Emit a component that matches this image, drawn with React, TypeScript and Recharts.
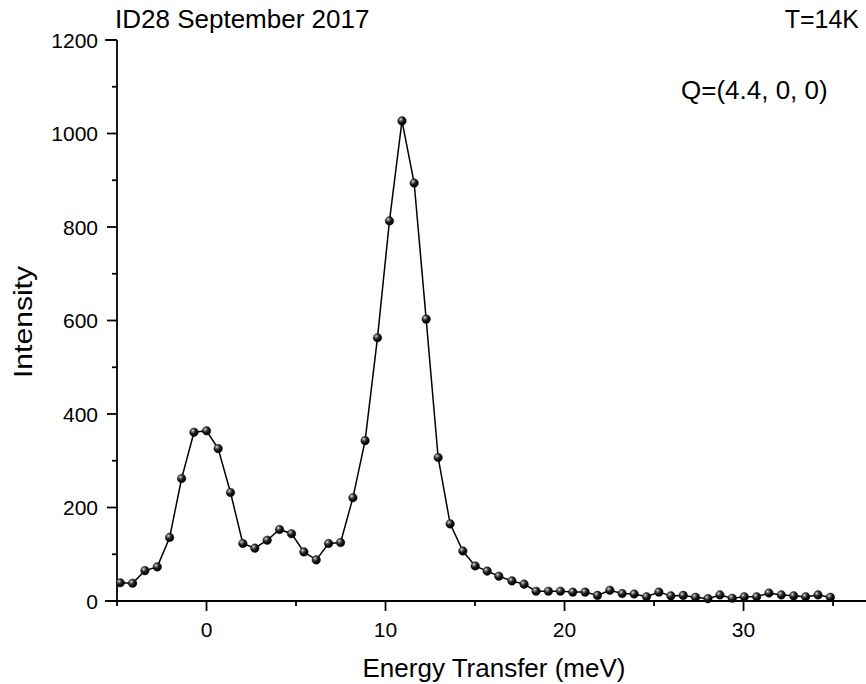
import React from "react";
import { LineChart, Line, XAxis, YAxis, Customized } from "recharts";

const energy = [
  -4.82, -4.13, -3.44, -2.75, -2.06, -1.39, -0.7, 0.0, 0.65, 1.34,
  2.03, 2.7, 3.39, 4.08, 4.75, 5.44, 6.13, 6.82, 7.49, 8.18,
  8.86, 9.55, 10.22, 10.92, 11.6, 12.27, 12.94, 13.61, 14.32, 15.01,
  15.68, 16.33, 17.06, 17.74, 18.41, 19.1, 19.77, 20.46, 21.15, 21.84,
  22.53, 23.22, 23.89, 24.58, 25.27, 25.94, 26.63, 27.32, 28.01, 28.68,
  29.37, 30.04, 30.73, 31.42, 32.11, 32.8, 33.47, 34.16, 34.85,
];

const intensity = [
  39, 38, 65, 73, 136, 262, 361, 364, 326, 232,
  123, 113, 130, 153, 144, 105, 88, 123, 125, 221,
  343, 563, 813, 1027, 894, 603, 307, 165, 107, 75,
  64, 53, 43, 36, 21, 21, 21, 19, 19, 12,
  23, 16, 15, 9, 19, 11, 12, 8, 5, 13,
  6, 9, 9, 17, 13, 11, 9, 13, 8,
];

const xTicks = [-5, 0, 5, 10, 15, 20, 25, 30, 35];
const yTicks = [0, 100, 200, 300, 400, 500, 600, 700, 800, 900, 1000, 1100, 1200];

const titleText = "ID28 September 2017";
const tempText = "T=14K";
const qText = "Q=(4.4, 0, 0)";
const xTitle = "Energy Transfer (meV)";
const yTitle = "Intensity";

const data = energy.map((e, i) => ({ e, v: intensity[i] }));

const FONT = "'Liberation Sans', Arial, Helvetica, sans-serif";
const AX = 1.8;

const XTick = (props: any) => {
  const { x, y, payload } = props;
  const v = payload.value;
  const major = v % 10 === 0;
  return (
    <g>
      <line x1={x} y1={y} x2={x} y2={y + (major ? 10 : 5)} stroke="#000" strokeWidth={AX} />
      {major && (
        <text x={x} y={y + 36} textAnchor="middle" fontSize={21} fontFamily={FONT} fill="#000">
          {v}
        </text>
      )}
    </g>
  );
};

const TopTick = (props: any) => {
  const { x, y } = props;
  return <line x1={x} y1={y - 1.5} x2={x} y2={y + 2} stroke="#000" strokeWidth={1} />;
};

const YTick = (props: any) => {
  const { x, y, payload } = props;
  const v = payload.value;
  const major = v % 200 === 0;
  return (
    <g>
      <line x1={x - (major ? 10 : 5)} y1={y} x2={x} y2={y} stroke="#000" strokeWidth={AX} />
      {(v === 0 || v === 1200) && (
        <line x1={x - 12} y1={y} x2={x} y2={y} stroke="#000" strokeWidth={AX} />
      )}
      {major && (
        <text x={x - 19} y={y} dy="0.36em" textAnchor="end" fontSize={21} fontFamily={FONT} fill="#000">
          {v}
        </text>
      )}
    </g>
  );
};

const Ball = (props: any) => {
  const { cx, cy, index } = props;
  if (cx == null || cy == null) return null;
  return (
    <g key={`d${index}`}>
      <defs>
        <radialGradient id="ballGrad" cx="35%" cy="32%" r="70%">
          <stop offset="0%" stopColor="#f0f0f0" />
          <stop offset="22%" stopColor="#707070" />
          <stop offset="55%" stopColor="#151515" />
          <stop offset="100%" stopColor="#000" />
        </radialGradient>
      </defs>
      <circle cx={cx} cy={cy} r={4.3} fill="url(#ballGrad)" stroke="#000" strokeWidth={0.4} />
    </g>
  );
};

const Texts = () => (
  <g fontFamily={FONT} fill="#000">
    <text x={115} y={28} fontSize={26} textAnchor="start">{titleText}</text>
    <text x={859} y={28} fontSize={25} textAnchor="end">{tempText}</text>
    <text x={681} y={99} fontSize={26} textAnchor="start">{qText}</text>
    <text x={494} y={677} fontSize={26} textAnchor="middle">{xTitle}</text>
    <text
      x={0}
      y={0}
      fontSize={26}
      textAnchor="middle"
      textLength={112}
      lengthAdjust="spacingAndGlyphs"
      transform="translate(32,322) rotate(-90)"
    >
      {yTitle}
    </text>
  </g>
);

export default function App() {
  return (
    <div style={{ position: "absolute", left: 0, top: 0, width: 866, height: 684, background: "#fff" }}>
      <LineChart width={866} height={684} data={data} margin={{ top: 40, right: 0, bottom: 0, left: 0 }}>
        <XAxis
          dataKey="e"
          type="number"
          domain={[-5, 36.84]}
          allowDataOverflow
          ticks={xTicks}
          interval={0}
          height={83}
          tickSize={0}
          tickMargin={0}
          tickLine={false}
          axisLine={{ stroke: "#000", strokeWidth: AX }}
          tick={<XTick />}
        />
        <XAxis
          xAxisId="top"
          dataKey="e"
          type="number"
          orientation="top"
          domain={[-5, 36.84]}
          allowDataOverflow
          ticks={xTicks}
          interval={0}
          height={0}
          tickSize={0}
          tickMargin={0}
          tickLine={false}
          axisLine={{ stroke: "#000", strokeWidth: AX }}
          tick={<TopTick />}
        />
        <YAxis
          type="number"
          domain={[0, 1200]}
          ticks={yTicks}
          interval={0}
          width={117}
          tickSize={0}
          tickMargin={0}
          tickLine={false}
          axisLine={{ stroke: "#000", strokeWidth: AX }}
          tick={<YTick />}
        />
        <Line
          type="linear"
          dataKey="v"
          stroke="#000"
          strokeWidth={1.5}
          dot={<Ball />}
          activeDot={false}
          isAnimationActive={false}
        />
        <Customized component={Texts} />
      </LineChart>
    </div>
  );
}
